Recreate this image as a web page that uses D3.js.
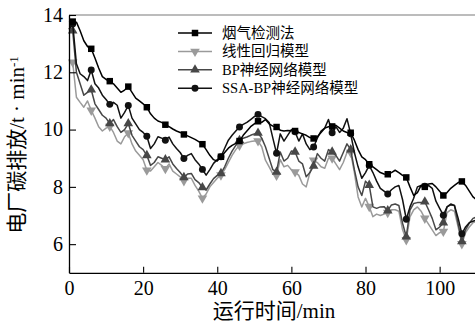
<!DOCTYPE html>
<html>
<head>
<meta charset="utf-8">
<script src="https://cdn.jsdelivr.net/npm/d3@7"></script>
<style>
  body { margin: 0; background: #fff; }
  svg { display: block; font-family: "Liberation Serif", "Noto Sans CJK SC", serif; }
</style>
</head>
<body>
<div id="chart"></div>
<script>
// carbon emission readings, one per minute (t = 0..110)
const smokeData = [
  13.80, 13.77, 13.75, 13.45, 13.10, 12.90, 12.82, 12.50, 12.15, 11.85, 11.75,
  11.69, 11.60, 11.45, 11.30, 11.38, 11.50, 11.30, 11.10, 11.00, 10.90,
  10.78, 10.55, 10.40, 10.30, 10.25, 10.17, 10.10, 10.02, 9.95, 9.90,
  9.83, 9.78, 9.72, 9.66, 9.58, 9.49, 9.30, 9.10, 8.95, 8.90,
  9.05, 9.20, 9.35, 9.45, 9.52, 9.60, 9.80, 9.95, 10.10, 10.20,
  10.29, 10.25, 10.35, 10.20, 10.12, 10.09, 9.98, 9.95, 9.97, 9.96,
  9.95, 9.90, 9.85, 9.80, 9.72, 9.69, 9.75, 9.90, 10.05, 10.10,
  10.11, 10.15, 10.05, 9.95, 9.90, 9.89, 9.63, 9.30, 9.05, 8.95,
  8.79, 8.70, 8.60, 8.50, 8.45, 8.44, 8.50, 8.58, 8.50, 8.40,
  8.33, 8.00, 7.70, 7.80, 8.05, 8.00, 8.10, 8.12, 8.00, 7.85,
  7.70, 7.80, 7.95, 8.05, 8.15, 8.19, 8.05, 7.85, 7.65, 7.54
];
const linearData = [
  12.40, 12.35, 11.13, 10.95, 10.78, 11.00, 10.67, 10.40, 10.10, 9.95, 10.05,
  10.11, 9.90, 9.60, 9.50, 9.75, 9.88, 9.50, 9.25, 9.10, 8.95,
  8.58, 8.55, 8.70, 8.85, 8.75, 8.63, 8.80, 8.55, 8.45, 8.35,
  8.21, 8.30, 8.30, 8.05, 7.85, 7.60, 7.75, 8.00, 8.15, 8.30,
  8.41, 8.60, 8.85, 9.10, 9.30, 9.45, 9.50, 9.55, 9.58, 9.60,
  9.60, 9.40, 8.93, 8.70, 8.45, 8.40, 8.95, 8.70, 8.75, 8.60,
  8.52, 8.40, 8.10, 8.00, 8.50, 8.93, 8.85, 8.70, 8.65, 9.00,
  9.00, 8.80, 8.60, 8.85, 9.20, 9.20, 8.50, 7.65, 7.30, 7.60,
  7.31, 6.96, 7.05, 7.00, 7.05, 7.10, 7.20, 7.20, 7.15, 6.50,
  6.15, 6.95, 7.20, 7.30, 7.15, 6.90, 6.70, 6.50, 6.30, 6.40,
  6.44, 7.10, 7.20, 7.15, 6.60, 6.01, 6.40, 6.60, 6.75, 6.80
];
const bpData = [
  13.55, 13.45, 12.00, 11.60, 11.20, 11.30, 11.39, 10.90, 10.70, 10.50, 10.40,
  10.21, 10.35, 10.10, 9.90, 10.00, 10.21, 9.80, 9.60, 9.40, 9.30,
  9.10, 8.75, 8.85, 9.05, 9.00, 8.95, 9.05, 8.80, 8.64, 8.50,
  8.33, 8.45, 8.47, 8.25, 8.15, 7.98, 7.89, 8.10, 8.29, 8.40,
  8.47, 8.70, 9.00, 9.25, 9.45, 9.63, 9.70, 9.74, 9.80, 9.85,
  9.88, 9.70, 9.40, 9.00, 8.60, 8.52, 9.22, 8.90, 9.00, 9.25,
  9.22, 8.90, 8.80, 8.35, 8.50, 8.73, 9.16, 9.00, 8.90, 9.30,
  9.22, 9.10, 8.90, 9.20, 9.50, 9.30, 8.60, 8.00, 7.70, 8.20,
  8.06, 7.30, 7.25, 7.30, 7.31, 7.17, 7.37, 7.40, 7.35, 6.73,
  6.26, 7.19, 7.42, 7.45, 7.45, 7.48, 7.20, 6.90, 6.50, 6.60,
  6.75, 7.30, 7.37, 7.35, 6.70, 6.09, 6.50, 6.73, 6.90, 6.95
];
const ssaData = [
  13.50, 13.69, 12.30, 11.95, 11.85, 11.71, 12.08, 11.60, 11.45, 11.20, 11.05,
  10.88, 10.95, 10.85, 10.40, 10.60, 10.84, 10.40, 10.20, 10.00, 9.90,
  9.77, 9.34, 9.50, 9.75, 9.70, 9.63, 9.74, 9.50, 9.34, 9.20,
  8.99, 9.10, 9.16, 8.95, 8.80, 8.61, 8.41, 8.60, 8.82, 8.95,
  9.05, 9.35, 9.63, 9.80, 9.95, 10.09, 10.18, 10.25, 10.35, 10.45,
  10.53, 10.45, 10.38, 10.25, 9.70, 9.17, 9.85, 9.60, 9.80, 10.00,
  9.92, 9.60, 9.85, 9.50, 9.30, 9.39, 9.70, 9.95, 10.05, 10.35,
  9.89, 10.10, 9.90, 10.05, 10.38, 9.85, 9.20, 8.70, 8.30, 8.50,
  8.75, 8.50, 8.20, 7.95, 7.85, 7.75, 7.90, 8.00, 8.05, 7.55,
  6.87, 7.30, 7.60, 8.00, 8.05, 8.02, 8.05, 7.95, 7.50, 7.25,
  7.01, 7.30, 7.40, 7.35, 6.90, 6.36, 6.60, 6.75, 6.80, 6.85
];
const seriesNames = ["烟气检测法", "线性回归模型", "BP神经网络模型", "SSA-BP神经网络模型"];
const xTicks = [0, 20, 40, 60, 80, 100];
const yTicks = [6, 8, 10, 12, 14];

const width = 475;
const height = 333;

const x = d3.scaleLinear().domain([0, 110]).range([69, 476.7]);
const y = d3.scaleLinear().domain([5, 14]).range([272.8, 15]);

const svg = d3.select("#chart")
  .append("svg")
  .attr("width", width)
  .attr("height", height);

// series styles, drawn back to front
const series = [
  { name: seriesNames[1], data: linearData, color: "#9a9a9a", symbol: "down" },
  { name: seriesNames[2], data: bpData, color: "#474747", symbol: "up" },
  { name: seriesNames[3], data: ssaData, color: "#111", symbol: "circle" },
  { name: seriesNames[0], data: smokeData, color: "#000", symbol: "square" }
];

const symbolPath = {
  square: d3.symbol().type(d3.symbolSquare).size(42),
  circle: d3.symbol().type(d3.symbolCircle).size(38),
  up: d3.symbol().type(d3.symbolTriangle).size(40),
  down: d3.symbol().type(d3.symbolTriangle).size(40)
};

// frame: top border in gray
svg.append("line")
  .attr("x1", x(0)).attr("x2", width)
  .attr("y1", y(14)).attr("y2", y(14))
  .attr("stroke", "#7a7a7a").attr("stroke-width", 1.2);

const line = d3.line()
  .x((d, i) => x(i))
  .y(d => y(d));

const g = svg.append("g");

series.forEach(s => {
  g.append("path")
    .datum(s.data)
    .attr("fill", "none")
    .attr("stroke", s.color)
    .attr("stroke-width", 1.5)
    .attr("stroke-linejoin", "round")
    .attr("d", line);

  // marker on every fifth reading
  const marks = s.data.map((v, i) => ({ i, v })).filter(d => d.i % 5 === 1);
  g.selectAll(null)
    .data(marks)
    .enter().append("path")
    .attr("d", symbolPath[s.symbol])
    .attr("transform", d => `translate(${x(d.i)},${y(d.v)})` + (s.symbol === "down" ? " rotate(180)" : ""))
    .attr("fill", s.color);
});

// axes, ticks pointing inward
const xAxis = svg.append("g")
  .attr("transform", `translate(0,${y(5)})`)
  .call(d3.axisBottom(x).tickValues(xTicks).tickSizeInner(-6).tickSizeOuter(0).tickPadding(8));
const yAxis = svg.append("g")
  .attr("transform", `translate(${x(0)},0)`)
  .call(d3.axisLeft(y).tickValues(yTicks).tickSizeInner(-7).tickSizeOuter(0).tickPadding(6));

[xAxis, yAxis].forEach(a => {
  a.select(".domain").attr("stroke", "#000").attr("stroke-width", 1.3);
  a.selectAll(".tick line").attr("stroke", "#000").attr("stroke-width", 1.1);
  a.selectAll(".tick text")
    .attr("fill", "#000")
    .style("font-family", "'Liberation Serif', serif")
    .style("font-size", "20px");
});
xAxis.selectAll(".tick text").attr("dy", "0.72em");

// axis titles
svg.append("text")
  .attr("x", 274)
  .attr("y", 318)
  .attr("text-anchor", "middle")
  .style("font-size", "21px")
  .text("运行时间/min");

const yTitle = svg.append("text")
  .attr("transform", "translate(24,145) rotate(-90)")
  .attr("text-anchor", "middle")
  .style("font-size", "21px");
yTitle.append("tspan").text("电厂碳排放/t · min");
yTitle.append("tspan").attr("dy", "-0.45em").style("font-size", "13px").text("-1");

// legend
const legendOrder = [series[3], series[0], series[1], series[2]];
const legend = svg.append("g");
legendOrder.forEach((s, k) => {
  const ly = 33 + k * 18.4;
  legend.append("line")
    .attr("x1", 178).attr("x2", 212)
    .attr("y1", ly).attr("y2", ly)
    .attr("stroke", s.color).attr("stroke-width", 1.5);
  legend.append("path")
    .attr("d", symbolPath[s.symbol])
    .attr("transform", `translate(195,${ly})` + (s.symbol === "down" ? " rotate(180)" : ""))
    .attr("fill", s.color);
  legend.append("text")
    .attr("x", 222)
    .attr("y", ly + 5)
    .style("font-size", "14.5px")
    .text(s.name);
});
</script>
</body>
</html>
